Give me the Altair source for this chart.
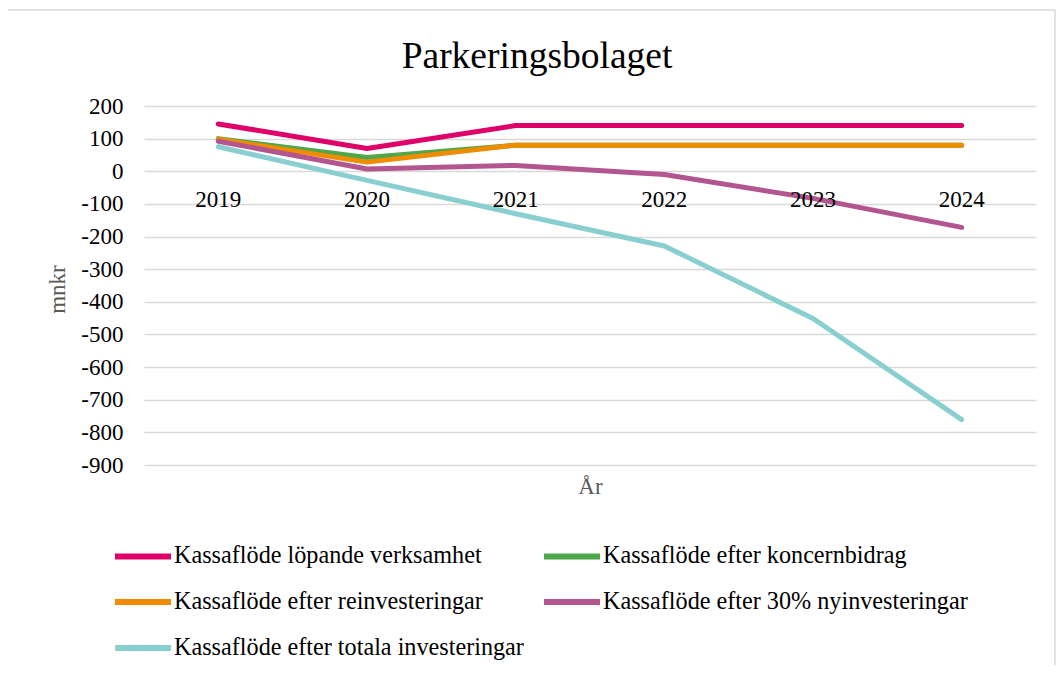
import altair as alt
import pandas as pd

years = ["2019", "2020", "2021", "2022", "2023", "2024"]
series_names = [
    "Kassaflöde löpande verksamhet",
    "Kassaflöde efter koncernbidrag",
    "Kassaflöde efter reinvesteringar",
    "Kassaflöde efter 30% nyinvesteringar",
    "Kassaflöde efter totala investeringar",
]
lopande = [145, 70, 140, 140, 140, 140]
koncernbidrag = [100, 42, 80, 80, 80, 80]
reinvest = [98, 28, 80, 80, 80, 80]
nyinvest = [92, 7, 18, -10, -83, -172]
totala = [75, -28, -130, -229, -451, -761]
colors = ["#E0006A", "#4EA84B", "#F08C00", "#B3558F", "#89CFD0"]
y_ticks = [200, 100, 0, -100, -200, -300, -400, -500, -600, -700, -800, -900]

values = [lopande, koncernbidrag, reinvest, nyinvest, totala]
rows = []
for si, (name, vals) in enumerate(zip(series_names, values)):
    for y, v in zip(years, vals):
        rows.append({"År": y, "mnkr": v, "Serie": name, "ord": si})
df = pd.DataFrame(rows)
years_df = pd.DataFrame({"År": years})

FONT = "Liberation Serif"
W, H = 892, 359

x_enc = alt.X("År:N", sort=years,
              scale=alt.Scale(type="point", padding=0.5),
              axis=alt.Axis(labels=False, ticks=False, domain=False, grid=False,
                            title="År", titleFont=FONT, titleFontSize=23,
                            titleFontWeight="normal", titleColor="#595959",
                            titlePadding=10))

y_axis = alt.Axis(values=y_ticks, ticks=False, domain=False, grid=True,
                  gridColor="#d9d9d9", gridWidth=1.5,
                  labelFont=FONT, labelFontSize=23, labelColor="#000000",
                  labelPadding=21, labelOverlap=False,
                  labelExpr="'' + datum.value",
                  title="mnkr", titleFont=FONT, titleFontSize=23,
                  titleFontWeight="normal", titleColor="#595959",
                  titleX=-87, titleY=183, titleBaseline="middle")
y_scale = alt.Scale(domain=[-900, 200], nice=False, zero=False)

lines = alt.Chart(df).mark_line(strokeWidth=5, strokeCap="round", strokeJoin="round").encode(
    x=x_enc,
    y=alt.Y("mnkr:Q", scale=y_scale, axis=y_axis),
    color=alt.Color("Serie:N", sort=series_names,
                    scale=alt.Scale(domain=series_names, range=colors),
                    legend=alt.Legend(title=None, orient="none", legendX=-32, legendY=419,
                                      direction="horizontal",
                                      columns=2, columnPadding=8, rowPadding=2,
                                      symbolType="stroke", symbolSize=3136,
                                      symbolStrokeWidth=6, labelOffset=0,
                                      labelFont=FONT, labelFontSize=24.2,
                                      labelColor="#000000", labelLimit=600)),
    order=alt.Order("ord:Q"),
)

year_labels = alt.Chart(years_df).mark_text(font=FONT, fontSize=23, color="#000000",
                                            baseline="middle", dy=29).encode(
    x=alt.X("År:N", sort=years),
    y=alt.YDatum(0, scale=y_scale, axis=y_axis),
    text="År:N",
)

frame = alt.Chart(pd.DataFrame({"a": [0]})).mark_rect(
    fill="transparent", stroke="#d9d9d9", strokeWidth=1.5).encode(
    x=alt.value(-137), x2=alt.value(911), y=alt.value(-96), y2=alt.value(564))

chart = alt.layer(frame, lines, year_labels).properties(
    width=W, height=H,
    autosize=alt.AutoSizeParams(type="none"),
    padding={"left": 136, "top": 98, "right": 20, "bottom": 200},
    background="white",
    title=alt.TitleParams("Parkeringsbolaget", font=FONT, fontSize=37.5,
                          fontWeight="normal", color="#000000",
                          anchor="middle", dx=-53, offset=-66),
).configure_view(stroke="transparent", strokeWidth=0).configure_axis(labelOverlap=False)

chart.save("out.html", embed_options={"renderer": "svg", "actions": False})
